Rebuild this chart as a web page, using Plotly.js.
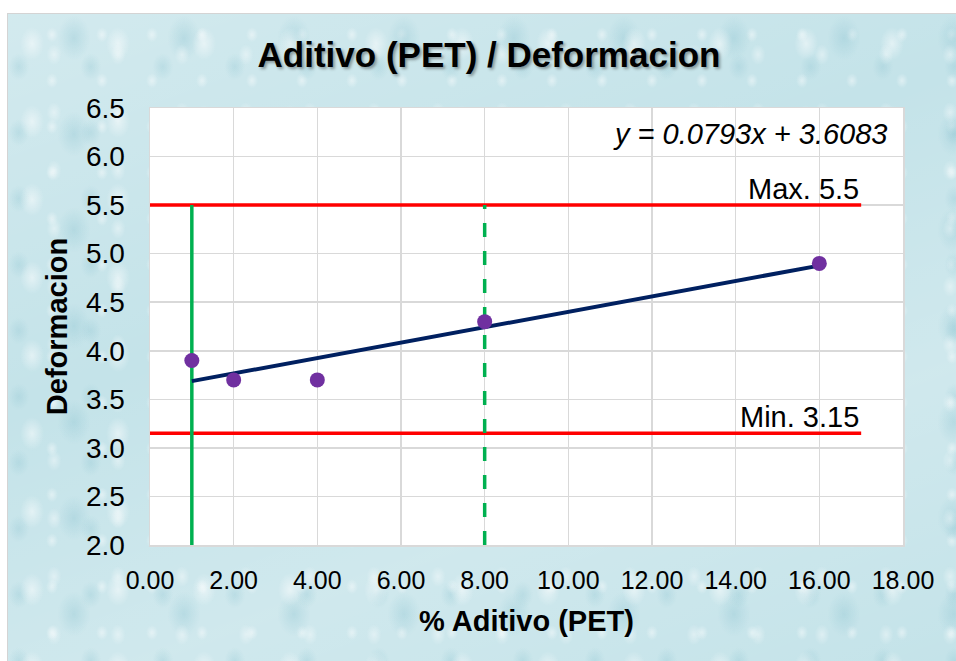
<!DOCTYPE html>
<html>
<head>
<meta charset="utf-8">
<script src="https://cdn.plot.ly/plotly-3.0.1.min.js"></script>
<style>
  html, body { margin: 0; padding: 0; background: #ffffff; }
  #wrap { position: relative; width: 956px; height: 661px; overflow: hidden; }
  /* water-drop style backdrop behind the chart */
  #backdrop {
    position: absolute; left: 7px; top: 13px; width: 949px; height: 648px;
    border-left: 1px solid #d4d4d4; border-top: 1px solid #d4d4d4;
    background-color: #c4e3e9;
    background-image:
      radial-gradient(ellipse 16px 22px at 28% 38%, rgba(255,255,255,0.5), rgba(255,255,255,0) 75%),
      radial-gradient(ellipse 10px 14px at 72% 70%, rgba(255,255,255,0.4), rgba(255,255,255,0) 75%),
      radial-gradient(ellipse 22px 30px at 60% 25%, rgba(140,195,208,0.35), rgba(140,195,208,0) 75%),
      radial-gradient(ellipse 14px 18px at 15% 80%, rgba(140,195,208,0.30), rgba(140,195,208,0) 75%),
      radial-gradient(ellipse 8px 10px at 88% 45%, rgba(255,255,255,0.45), rgba(255,255,255,0) 75%),
      linear-gradient(160deg, rgba(255,255,255,0.25), rgba(255,255,255,0) 40%, rgba(255,255,255,0.2) 70%, rgba(255,255,255,0));
    background-size: 86px 78px, 64px 58px, 110px 96px, 72px 66px, 50px 46px, 100% 100%;
  }
  #chart { position: absolute; left: 0; top: 0; width: 956px; height: 661px; }
</style>
</head>
<body>
<div id="wrap">
  <div id="backdrop"></div>
  <div id="chart"></div>
</div>
<script>
// Measured samples: % additive (PET) vs deformation
const aditivo = [1, 2, 4, 8, 16];
const deformacion = [3.9, 3.7, 3.7, 4.3, 4.9];

// Linear fit shown on the chart
const slope = 0.0793;
const intercept = 3.6083;
const fitX = [1, 16];

// Specification limits
const maxLimit = 5.5;
const minLimit = 3.15;
const limitX = [0, 17];

// Vertical reference lines
const refSolidX = 1;
const refDashX = 8;
const refY = [2.0, 5.5];

// Tick values
const xTicks = [0, 2, 4, 6, 8, 10, 12, 14, 16, 18];
const xTickText = ['0.00', '2.00', '4.00', '6.00', '8.00', '10.00', '12.00', '14.00', '16.00', '18.00'];
const yTicks = [2.0, 2.5, 3.0, 3.5, 4.0, 4.5, 5.0, 5.5, 6.0, 6.5];
const yTickText = ['2.0', '2.5', '3.0', '3.5', '4.0', '4.5', '5.0', '5.5', '6.0', '6.5'];

const fitY = fitX.map(x => slope * x + intercept);
const FONT = '"Liberation Sans", Arial, sans-serif';

const traces = [
  { x: limitX, y: [maxLimit, maxLimit], mode: 'lines', line: { color: '#ff0000', width: 3.5 }, hoverinfo: 'skip' },
  { x: limitX, y: [minLimit, minLimit], mode: 'lines', line: { color: '#ff0000', width: 3.5 }, hoverinfo: 'skip' },
  { x: [refSolidX, refSolidX], y: refY, mode: 'lines', line: { color: '#00b050', width: 3.5 }, hoverinfo: 'skip' },
  { x: [refDashX, refDashX], y: refY, mode: 'lines', line: { color: '#00b050', width: 3.5, dash: '14px,14px' }, hoverinfo: 'skip' },
  { x: fitX, y: fitY, mode: 'lines', line: { color: '#002060', width: 4 }, hoverinfo: 'skip' },
  { x: aditivo, y: deformacion, mode: 'markers', marker: { color: '#7030a0', size: 15 } }
];

const layout = {
  width: 956, height: 661,
  margin: { l: 150, r: 53, t: 108, b: 116, pad: 0 },
  paper_bgcolor: 'rgba(0,0,0,0)',
  plot_bgcolor: '#ffffff',
  showlegend: false,
  font: { family: FONT, color: '#000000' },
  title: {
    text: 'Aditivo (PET) / Deformacion',
    font: { family: FONT, size: 35, color: '#000000', weight: 'bold', shadow: '2px 2px 3px rgba(0,0,0,0.35)' },
    xref: 'container', yref: 'container', x: 0.5115, xanchor: 'center', y: 1 - 55 / 661, yanchor: 'middle'
  },
  xaxis: {
    range: [0, 18], tickvals: xTicks, ticktext: xTickText,
    showgrid: true, gridcolor: '#d9d9d9', gridwidth: 1.5,
    zeroline: false, showline: true, linecolor: '#d9d9d9', linewidth: 1.5, mirror: true,
    ticks: 'outside', ticklen: 12, tickcolor: 'rgba(0,0,0,0)',
    tickfont: { family: FONT, size: 25, color: '#000000' },
    title: { text: '% Aditivo (PET)', font: { family: FONT, size: 29, weight: 'bold', color: '#000000' }, standoff: 18 }
  },
  yaxis: {
    range: [2.0, 6.5], tickvals: yTicks, ticktext: yTickText,
    showgrid: true, gridcolor: '#d9d9d9', gridwidth: 1.5,
    zeroline: false, showline: true, linecolor: '#d9d9d9', linewidth: 1.5, mirror: true,
    ticks: 'outside', ticklen: 18, tickcolor: 'rgba(0,0,0,0)',
    tickfont: { family: FONT, size: 28, color: '#000000' },
    title: { text: 'Deformacion', font: { family: FONT, size: 29, weight: 'bold', color: '#000000' }, standoff: 10 }
  },
  annotations: [
    { x: 17, y: maxLimit, xref: 'x', yref: 'y', xanchor: 'right', yanchor: 'bottom', yshift: -2,
      text: 'Max. ' + maxLimit, showarrow: false, font: { family: FONT, size: 29, color: '#000000' } },
    { x: 17, y: minLimit, xref: 'x', yref: 'y', xanchor: 'right', yanchor: 'bottom', yshift: -2,
      text: 'Min. ' + minLimit, showarrow: false, font: { family: FONT, size: 29, color: '#000000' } },
    { x: 17.7, y: 6.23, xref: 'x', yref: 'y', xanchor: 'right', yanchor: 'middle',
      text: '<i>y = ' + slope + 'x + ' + intercept + '</i>', showarrow: false,
      font: { family: FONT, size: 29, color: '#000000' } }
  ]
};

Plotly.newPlot('chart', traces, layout, { displayModeBar: false, staticPlot: true });
</script>
</body>
</html>
